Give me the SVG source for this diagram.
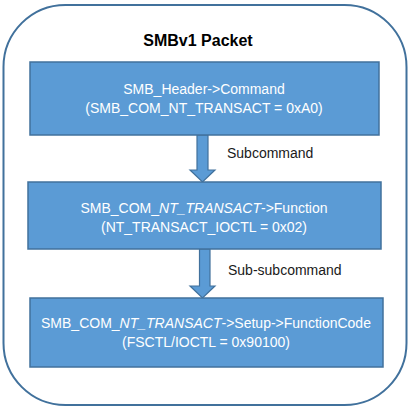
<svg xmlns="http://www.w3.org/2000/svg" width="410" height="410" viewBox="0 0 410 410">
<style>
.box{fill:#5B9BD5;stroke:#41719C;stroke-width:1.5}
.arr{fill:#5B9BD5;stroke:#41719C;stroke-width:1.2}
.t{font-family:"Liberation Sans",Arial,sans-serif;font-size:14px;fill:#fff;text-anchor:middle}
.lbl{font-family:"Liberation Sans",Arial,sans-serif;font-size:14px;fill:#1a1a1a}
.title{font-family:"Liberation Sans",Arial,sans-serif;font-size:16px;font-weight:bold;fill:#000;text-anchor:middle}
</style>
<rect x="3.5" y="5" width="403" height="400" rx="62" ry="62" fill="#fff" stroke="#41719C" stroke-width="2"/>
<text class="title" x="198" y="46">SMBv1 Packet</text>
<g id="connectors">
<polygon class="arr" points="197,135 208,135 208,170 215,170 202.5,182 190,170 197,170"/>
<text class="lbl" x="227" y="158">Subcommand</text>
<polygon class="arr" points="199.5,249 210,249 210,286 215,286 202.5,298 190,286 199.5,286"/>
<text class="lbl" x="228" y="275">Sub-subcommand</text>
</g>
<g id="node1">
<rect class="box" x="30" y="62" width="349" height="73"/>
<text class="t" x="204" y="94">SMB_Header-&gt;Command</text>
<text class="t" x="204" y="113">(SMB_COM_NT_TRANSACT = 0xA0)</text>
</g>
<g id="node2">
<rect class="box" x="28" y="182" width="353" height="67"/>
<text class="t" x="204" y="213">SMB_COM_<tspan font-style="italic">NT_TRANSACT</tspan>-&gt;Function</text>
<text class="t" x="204" y="232">(NT_TRANSACT_IOCTL = 0x02)</text>
</g>
<g id="node3">
<rect class="box" x="30" y="298" width="353" height="69"/>
<text class="t" x="206" y="328">SMB_COM_<tspan font-style="italic">NT_TRANSACT</tspan>-&gt;Setup-&gt;FunctionCode</text>
<text class="t" x="206" y="347">(FSCTL/IOCTL = 0x90100)</text>
</g>
</svg>
